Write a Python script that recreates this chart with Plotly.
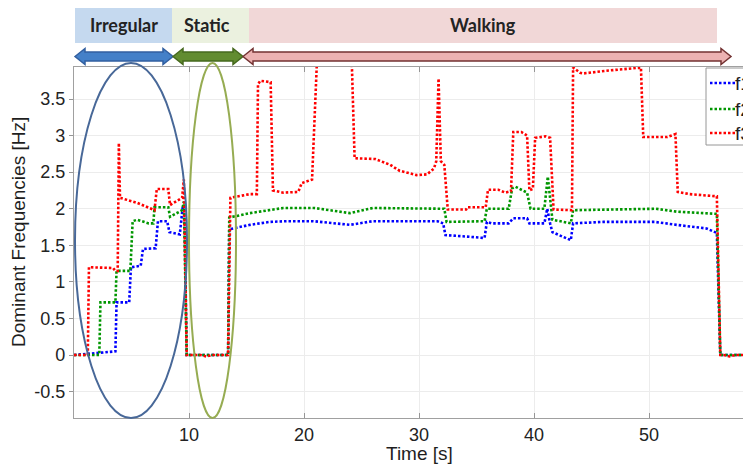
import plotly.graph_objects as go

# ---------------- data ----------------
t_f1 = [0, 3.6, 3.7, 4.8, 4.95, 5.8, 6.0, 7.1, 7.3, 8.1, 8.3, 9.2, 9.45, 9.6, 9.8,
        13.4, 13.5, 15.3, 17.0, 18.5, 20.8, 22.5, 24.0, 26.0, 31.6, 32.1, 32.3, 34.1,
        35.3, 35.7, 35.9, 36.3, 37.8, 38.2, 39.4, 39.6, 40.9, 41.15, 41.4, 41.6, 43.2,
        43.4, 46.0, 50.5, 52.4, 55.0, 55.9, 56.2, 58.9]
v_f1 = [0, 0.05, 0.72, 0.72, 1.2, 1.22, 1.45, 1.46, 1.83, 1.83, 1.68, 1.65, 2.02, 2.0, 0,
        0, 1.72, 1.78, 1.82, 1.83, 1.83, 1.8, 1.78, 1.83, 1.83, 1.8, 1.64, 1.62,
        1.6, 1.6, 1.82, 1.8, 1.8, 1.87, 1.87, 1.8, 1.8, 2.0, 1.8, 1.68, 1.57,
        1.8, 1.82, 1.82, 1.78, 1.73, 1.67, 0, 0]

t_f2 = [0, 2.2, 2.3, 3.6, 3.7, 4.9, 5.1, 5.5, 6.5, 6.9, 7.0, 8.2, 8.35, 9.4, 9.55, 9.8,
        13.4, 13.5, 15.3, 17.0, 18.2, 20.9, 22.5, 24.0, 26.0, 31.6, 32.2, 32.4, 35.7,
        35.9, 37.8, 38.1, 38.4, 39.4, 39.7, 40.9, 41.2, 41.6, 43.2, 43.4, 50.6, 52.4,
        55.9, 56.2, 58.9]
v_f2 = [0, 0, 0.72, 0.72, 1.15, 1.15, 1.83, 1.85, 1.8, 1.8, 2.02, 2.02, 1.89, 1.98, 2.1, 0,
        0, 1.88, 1.94, 1.98, 2.01, 2.01, 1.97, 1.94, 2.01, 2.01, 2.0, 1.82, 1.83,
        2.0, 2.0, 2.28, 2.3, 2.22, 2.0, 2.0, 2.44, 1.85, 1.8, 1.98, 2.0, 1.96,
        1.93, 0, 0]

t_f3 = [0, 1.2, 1.3, 3.4, 3.6, 3.8, 3.9, 4.0, 5.5, 7.0, 7.2, 8.2, 8.35, 9.4, 9.55, 9.8,
        11.0, 11.5, 12.0, 13.4, 13.6, 15.3, 15.9, 16.0, 16.2, 17.1, 17.3, 18.2, 19.5,
        19.8, 20.7, 21.2, 24.1, 24.4, 26.2, 27.5, 28.3, 29.8, 30.7, 31.3, 31.5, 31.7,
        31.9, 32.2, 32.5, 34.1, 34.2, 35.8, 36.0, 36.9, 37.5, 38.0, 38.2, 38.9, 39.4,
        39.6, 39.9, 40.1, 41.0, 41.4, 41.7, 43.3, 43.4, 44.0, 44.3, 46.5, 49.3, 49.5,
        51.6, 52.3, 52.5, 53.5, 55.9, 56.2, 56.5, 57.0, 57.5, 58.9]
v_f3 = [0, 0, 1.2, 1.19, 1.15, 1.15, 2.9, 2.15, 2.08, 1.98, 2.27, 2.27, 2.05, 2.15, 2.4, 0,
        0, -0.02, 0, 0, 2.15, 2.2, 2.2, 3.7, 3.75, 3.73, 2.25, 2.22, 2.23,
        2.35, 2.4, 4.3, 4.3, 2.69, 2.68, 2.6, 2.52, 2.46, 2.47, 2.55, 2.65, 3.78,
        2.65, 2.6, 1.99, 1.99, 2.02, 2.02, 2.26, 2.26, 2.22, 2.24, 3.05, 3.05, 3.0,
        2.25, 2.27, 2.97, 2.99, 2.97, 1.99, 1.98, 3.93, 3.86, 3.85, 3.89, 3.93, 2.98,
        2.98, 3.02, 2.23, 2.2, 2.17, 0, 0, -0.02, 0, 0]

series_names = ["f1", "f2", "f3"]
series_colors = ["rgb(0,0,255)", "rgb(0,150,0)", "rgb(255,0,0)"]

y_ticks = [-0.5, 0, 0.5, 1, 1.5, 2, 2.5, 3, 3.5]
x_ticks = [10, 20, 30, 40, 50]

phases = ["Irregular", "Static", "Walking"]

# ---------------- geometry (reference pixels; page body has an 8px margin) ----------------
OFF = 8
W, H = 751, 464
L, T, B = 74, 67, 418
PW = W - L
PH = B - T
DASH = "2.5px,2px"


def px(x):
    return (x - L) / PW


def py(y):
    return (B - y) / PH


fig = go.Figure()
for t, v, n, c in zip([t_f1, t_f2, t_f3], [v_f1, v_f2, v_f3], series_names, series_colors):
    fig.add_trace(go.Scatter(x=t, y=v, name=n, mode="lines", showlegend=False,
                             line=dict(color=c, width=2.6, dash=DASH)))

shapes = []
# phase boxes
box_specs = [(75, 172, "rgb(197,217,239)"), (172, 249, "rgb(235,241,223)"),
             (249, 717, "rgb(241,215,215)")]
for x0, x1, col in box_specs:
    shapes.append(dict(type="rect", xref="paper", yref="paper", x0=px(x0), x1=px(x1),
                       y0=py(43), y1=py(7), fillcolor=col, line=dict(width=0), layer="below"))


def arrow_path(x0, x1, yc, hh=8, sh=4.5, hl=10):
    pts = [(x0, yc), (x0 + hl, yc - hh), (x0 + hl, yc - sh), (x1 - hl, yc - sh),
           (x1 - hl, yc - hh), (x1, yc), (x1 - hl, yc + hh), (x1 - hl, yc + sh),
           (x0 + hl, yc + sh), (x0 + hl, yc + hh)]
    return "M " + " L ".join(f"{px(a):.5f},{py(b):.5f}" for a, b in pts) + " Z"


arrow_specs = [(75, 173, "rgb(68,128,200)", "rgb(50,95,160)"),
               (173, 243, "rgb(98,140,48)", "rgb(70,105,30)"),
               (243, 731, "rgb(236,178,178)", "rgb(115,50,50)")]
for x0, x1, fc, lc in arrow_specs:
    shapes.append(dict(type="path", xref="paper", yref="paper", path=arrow_path(x0, x1, 56.5),
                       fillcolor=fc, line=dict(color=lc, width=1.5)))

# ellipses
shapes.append(dict(type="circle", xref="paper", yref="paper", x0=px(75), x1=px(187),
                   y0=py(418), y1=py(63), line=dict(color="rgb(72,104,152)", width=2)))
shapes.append(dict(type="circle", xref="paper", yref="paper", x0=px(189), x1=px(236),
                   y0=py(418), y1=py(63), line=dict(color="rgb(150,172,82)", width=2)))

# legend (box, dotted samples)
shapes.append(dict(type="rect", xref="paper", yref="paper", x0=px(706), x1=px(770),
                   y0=py(145), y1=py(68), fillcolor="white",
                   line=dict(color="rgb(150,150,150)", width=1)))
legend_y = [83, 109, 133]
for yy, c in zip(legend_y, series_colors):
    shapes.append(dict(type="line", xref="paper", yref="paper", x0=px(710), x1=px(735),
                       y0=py(yy), y1=py(yy), line=dict(color=c, width=2.6, dash=DASH)))

annotations = []
for n, yy in zip(series_names, legend_y):
    annotations.append(dict(text=n, xref="paper", yref="paper", x=px(733), y=py(yy),
                            showarrow=False, xanchor="left", yanchor="middle",
                            font=dict(family="Liberation Sans", size=19, color="rgb(30,30,30)")))
for name, xc in zip(phases, [124, 207, 483]):
    annotations.append(dict(text=f"<b>{name}</b>", xref="paper", yref="paper", x=px(xc), y=py(25),
                            showarrow=False, xanchor="center", yanchor="middle",
                            font=dict(family="Lato", size=18, color="rgb(35,35,35)")))
annotations.append(dict(text="Time [s]", xref="paper", yref="paper", x=px(419), y=py(453),
                        showarrow=False, xanchor="center", yanchor="middle",
                        font=dict(family="Liberation Sans", size=19, color="rgb(30,30,30)")))
annotations.append(dict(text="Dominant Frequencies [Hz]", xref="paper", yref="paper",
                        x=px(18), y=py(232), textangle=-90, showarrow=False,
                        xanchor="center", yanchor="middle",
                        font=dict(family="Liberation Sans", size=19, color="rgb(30,30,30)")))

fig.update_layout(
    width=W - OFF, height=H - OFF,
    margin=dict(l=L - OFF, r=0, t=T - OFF, b=H - B, pad=0),
    paper_bgcolor="white", plot_bgcolor="white",
    font=dict(family="Liberation Sans", size=18, color="rgb(35,35,35)"),
    shapes=shapes, annotations=annotations,
    showlegend=False,
    xaxis=dict(range=[0, PW / 11.5], tickvals=x_ticks, ticks="inside", ticklen=5,
               tickcolor="rgb(150,150,150)", showgrid=True, gridcolor="rgb(236,236,236)",
               showline=True, linecolor="rgb(160,160,160)", linewidth=1.2, mirror="ticks",
               zeroline=False, tickfont=dict(size=18)),
    yaxis=dict(range=[-0.861, 3.938], tickvals=y_ticks, ticktext=[str(v) for v in y_ticks],
               ticks="outside", ticklen=4, tickcolor="rgb(150,150,150)",
               showgrid=True, gridcolor="rgb(236,236,236)", showline=True,
               linecolor="rgb(160,160,160)", linewidth=1.2, zeroline=False,
               tickfont=dict(size=18)),
)

fig.write_html("out.html")
